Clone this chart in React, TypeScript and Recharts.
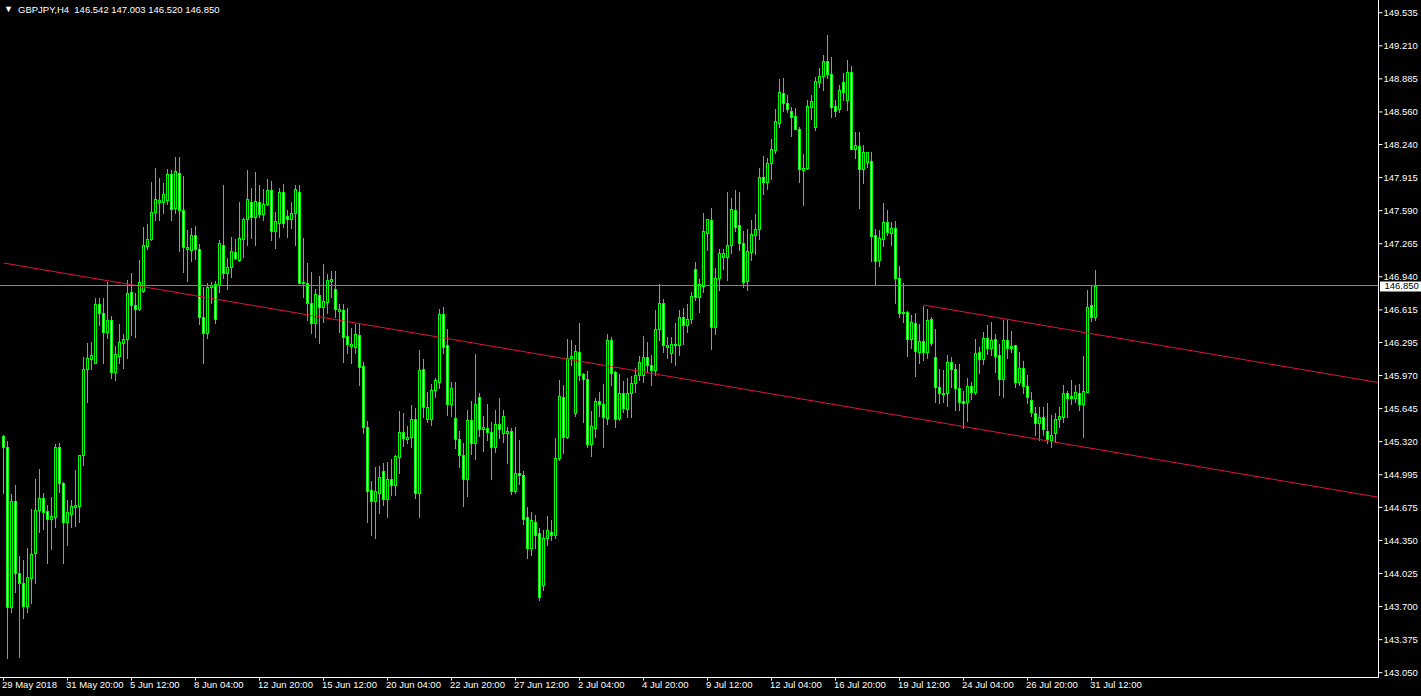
import React from 'react';
import { ComposedChart, Bar, XAxis, YAxis, ReferenceLine } from 'recharts';

const symbolName = 'GBPJPY';
const periodName = 'H4';

const openPrices = [
  145.376, 145.268, 143.696, 144.737, 144.030, 143.932, 143.705, 143.981, 144.226, 144.649,
  144.767, 144.639, 144.560, 144.580, 145.268, 144.914, 144.531, 144.610, 144.678, 144.688,
  145.189, 146.034, 146.132, 146.093, 146.673, 146.584, 146.398, 146.516, 146.005, 146.162,
  146.290, 146.329, 146.790, 146.663, 146.624, 146.800, 147.243, 147.312, 147.577, 147.675,
  147.675, 147.695, 147.951, 147.616, 147.960, 147.597, 147.213, 147.204, 147.351, 147.213,
  146.545, 146.388, 146.840, 146.870, 146.860, 147.253, 146.978, 147.037, 147.184, 147.105,
  147.312, 147.508, 147.675, 147.528, 147.675, 147.557, 147.656, 147.793, 147.390, 147.469,
  147.774, 147.538, 147.508, 147.567, 147.774, 146.889, 146.880, 146.683, 146.486, 146.761,
  146.644, 146.693, 146.899, 146.820, 146.604, 146.614, 146.359, 146.260, 146.250, 146.368,
  146.064, 145.464, 144.845, 144.737, 144.816, 145.032, 144.757, 144.953, 144.894, 145.170,
  145.415, 145.346, 145.366, 145.543, 144.816, 146.034, 145.543, 145.543, 145.828, 145.906,
  146.575, 146.270, 145.690, 145.553, 145.346, 145.189, 144.953, 145.533, 145.307, 145.759,
  145.444, 145.454, 145.415, 145.268, 145.494, 145.405, 145.405, 145.425, 144.835, 145.012,
  144.993, 144.580, 144.275, 144.531, 144.423, 143.912, 144.373, 144.432, 144.403, 145.160,
  145.759, 145.366, 146.143, 145.602, 146.201, 145.985, 145.936, 145.297, 145.454, 145.720,
  145.690, 145.553, 146.319, 146.005, 145.553, 145.798, 145.641, 145.798, 145.897, 145.975,
  145.975, 146.152, 146.074, 146.024, 146.427, 146.683, 146.250, 146.191, 146.270, 146.270,
  146.545, 146.467, 146.526, 147.017, 146.742, 146.850, 147.371, 147.498, 146.447, 146.929,
  147.135, 147.135, 147.253, 147.597, 147.449, 147.272, 146.899, 147.184, 147.351, 147.410,
  147.921, 147.872, 148.058, 148.186, 148.451, 148.746, 148.648, 148.569, 148.520, 148.392,
  147.990, 148.009, 148.609, 148.412, 148.854, 148.913, 149.061, 148.933, 148.618, 148.589,
  148.854, 148.677, 148.953, 148.196, 148.225, 148.000, 148.068, 148.078, 147.351, 147.105,
  147.312, 147.479, 147.371, 147.420, 146.929, 146.594, 146.594, 146.329, 146.486, 146.201,
  146.309, 146.201, 146.526, 146.152, 145.857, 145.798, 145.798, 146.103, 146.034, 145.848,
  145.720, 145.710, 145.867, 145.808, 146.201, 146.132, 146.339, 146.241, 146.329, 146.172,
  145.936, 146.319, 146.260, 146.270, 145.906, 146.044, 145.867, 145.730, 145.602, 145.504,
  145.563, 145.425, 145.337, 145.405, 145.543, 145.562, 145.798, 145.769, 145.749, 145.798,
  145.690, 145.808, 146.663, 146.542,
];

const highPrices = [
  145.386, 145.327, 144.806, 144.895, 144.197, 144.157, 144.275, 144.659, 144.953, 145.052,
  144.816, 144.698, 144.777, 145.297, 145.307, 144.924, 144.747, 144.747, 145.042, 145.189,
  146.152, 146.290, 146.300, 146.732, 146.732, 146.732, 146.889, 146.555, 146.261, 146.476,
  146.378, 146.909, 146.978, 146.781, 147.105, 147.429, 147.459, 147.872, 148.009, 147.911,
  147.862, 147.999, 147.990, 148.117, 148.117, 147.931, 147.400, 147.420, 147.439, 147.262,
  146.840, 146.879, 146.889, 146.899, 147.302, 147.842, 147.125, 147.331, 147.312, 147.675,
  147.518, 147.990, 147.813, 147.970, 147.842, 147.803, 147.901, 147.882, 147.577, 147.813,
  147.852, 147.597, 147.675, 147.842, 147.842, 147.322, 147.076, 146.987, 146.820, 146.948,
  147.066, 146.968, 146.997, 146.997, 146.673, 146.673, 146.634, 146.437, 146.476, 146.476,
  146.103, 145.523, 144.934, 145.071, 145.081, 145.111, 145.121, 145.150, 145.189, 145.621,
  145.602, 145.474, 145.681, 145.651, 146.221, 146.132, 145.808, 145.887, 145.946, 146.624,
  146.644, 146.427, 145.906, 145.906, 145.425, 145.307, 145.631, 145.720, 146.182, 145.798,
  145.572, 145.690, 145.513, 145.631, 145.749, 145.631, 145.464, 145.454, 145.464, 145.337,
  145.032, 144.678, 144.629, 144.600, 144.472, 144.452, 144.590, 144.550, 145.356, 145.926,
  145.877, 146.329, 146.319, 146.270, 146.486, 145.995, 146.015, 145.621, 145.749, 145.808,
  145.887, 146.378, 146.349, 146.015, 145.985, 145.916, 145.946, 145.965, 146.044, 146.162,
  146.359, 146.300, 146.172, 146.614, 146.870, 146.722, 146.349, 146.349, 146.486, 146.614,
  146.634, 146.673, 146.791, 147.086, 146.919, 147.567, 147.508, 147.616, 147.027, 147.213,
  147.213, 147.773, 147.714, 147.793, 147.773, 147.390, 147.410, 147.498, 147.557, 148.009,
  148.127, 148.107, 148.294, 148.589, 148.884, 148.894, 148.726, 148.609, 148.599, 148.412,
  148.147, 148.677, 148.726, 148.903, 148.992, 149.120, 149.316, 149.100, 148.677, 148.825,
  148.943, 149.070, 149.011, 148.363, 148.363, 148.235, 148.166, 148.166, 147.410, 147.400,
  147.665, 147.597, 147.479, 147.488, 147.046, 146.880, 146.604, 146.565, 146.584, 146.476,
  146.653, 146.624, 146.545, 146.427, 146.034, 146.024, 146.172, 146.152, 146.083, 146.083,
  145.818, 145.946, 145.906, 146.329, 146.250, 146.398, 146.467, 146.496, 146.378, 146.280,
  146.516, 146.516, 146.408, 146.270, 146.201, 146.113, 145.975, 145.808, 145.661, 145.661,
  145.661, 145.700, 145.582, 145.602, 145.661, 145.877, 145.818, 145.926, 145.877, 145.887,
  146.162, 146.810, 146.860, 147.003,
];

const lowPrices = [
  144.816, 143.195, 143.646, 143.843, 143.204, 143.588, 143.646, 143.735, 143.932, 144.432,
  144.462, 144.128, 144.266, 144.481, 144.826, 144.128, 144.305, 144.481, 144.491, 144.531,
  145.091, 145.710, 146.034, 146.093, 146.467, 146.093, 146.339, 145.946, 145.926, 146.093,
  146.044, 146.143, 146.368, 146.349, 146.614, 146.790, 147.213, 147.302, 147.498, 147.498,
  147.567, 147.656, 147.498, 147.567, 147.194, 146.987, 146.899, 147.095, 147.115, 146.476,
  146.093, 146.339, 146.683, 146.486, 146.791, 146.928, 146.820, 146.938, 147.115, 147.095,
  147.135, 147.253, 147.321, 147.253, 147.528, 147.498, 147.646, 147.302, 147.223, 147.331,
  147.429, 147.331, 147.420, 147.253, 146.880, 146.742, 146.516, 146.388, 146.349, 146.290,
  146.496, 146.585, 146.742, 146.545, 146.398, 146.103, 146.192, 146.093, 146.192, 145.877,
  145.405, 144.531, 144.403, 144.373, 144.619, 144.698, 144.580, 144.796, 144.796, 145.012,
  145.278, 145.307, 145.268, 144.767, 144.580, 145.562, 145.513, 145.484, 145.759, 145.848,
  146.192, 145.582, 145.572, 145.258, 145.071, 144.688, 144.786, 145.199, 145.150, 145.376,
  145.228, 145.337, 144.953, 145.219, 145.356, 145.317, 145.111, 144.806, 144.816, 144.904,
  144.511, 144.177, 144.206, 144.275, 143.764, 143.863, 144.305, 144.354, 144.373, 145.140,
  145.209, 145.356, 146.074, 145.572, 145.926, 145.513, 145.268, 145.179, 145.366, 145.572,
  145.268, 145.494, 145.877, 145.464, 145.533, 145.612, 145.562, 145.562, 145.808, 145.926,
  145.906, 146.005, 145.877, 145.975, 146.319, 146.201, 146.142, 146.103, 146.074, 146.172,
  146.280, 146.398, 146.486, 146.712, 146.594, 146.791, 147.204, 146.231, 146.378, 146.810,
  147.017, 146.909, 147.174, 147.390, 147.204, 146.840, 146.810, 147.105, 147.164, 147.312,
  147.754, 147.803, 147.901, 148.157, 148.412, 148.569, 148.560, 148.324, 148.392, 147.872,
  147.646, 148.000, 148.491, 148.383, 148.805, 148.776, 148.894, 148.510, 148.520, 148.560,
  148.677, 148.579, 148.216, 148.108, 147.616, 147.862, 148.019, 147.095, 146.860, 147.046,
  147.243, 147.351, 147.253, 146.683, 146.545, 146.496, 146.162, 146.241, 145.966, 146.093,
  146.123, 146.143, 146.270, 145.710, 145.700, 145.710, 145.670, 145.857, 145.631, 145.631,
  145.454, 145.523, 145.739, 145.789, 145.995, 146.083, 146.182, 146.172, 146.005, 145.779,
  145.759, 146.142, 146.201, 145.857, 145.877, 145.798, 145.700, 145.572, 145.386, 145.337,
  145.386, 145.307, 145.268, 145.317, 145.464, 145.513, 145.562, 145.690, 145.710, 145.631,
  145.366, 145.808, 146.506, 146.520,
];

const closePrices = [
  145.268, 143.696, 144.737, 144.030, 143.932, 143.705, 143.990, 144.216, 144.649, 144.767,
  144.629, 144.560, 144.590, 145.268, 144.914, 144.531, 144.629, 144.688, 144.698, 145.189,
  146.034, 146.143, 146.172, 146.673, 146.584, 146.398, 146.516, 146.005, 146.182, 146.300,
  146.329, 146.781, 146.663, 146.624, 146.889, 147.253, 147.312, 147.577, 147.705, 147.695,
  147.754, 147.951, 147.606, 147.980, 147.597, 147.233, 147.233, 147.351, 147.213, 146.545,
  146.388, 146.840, 146.860, 146.526, 147.272, 146.978, 147.037, 147.194, 147.125, 147.322,
  147.508, 147.705, 147.528, 147.685, 147.557, 147.656, 147.793, 147.390, 147.488, 147.774,
  147.469, 147.508, 147.567, 147.803, 146.880, 146.880, 146.683, 146.486, 146.771, 146.644,
  146.702, 146.909, 146.919, 146.624, 146.624, 146.349, 146.280, 146.280, 146.378, 146.054,
  145.464, 144.835, 144.737, 144.835, 144.973, 144.757, 144.953, 144.894, 145.179, 145.415,
  145.356, 145.366, 145.543, 144.816, 146.024, 145.661, 145.661, 145.828, 145.926, 146.575,
  146.250, 145.690, 145.848, 145.346, 145.189, 144.953, 145.533, 145.307, 145.690, 145.444,
  145.464, 145.415, 145.268, 145.494, 145.444, 145.572, 145.425, 144.835, 145.012, 144.993,
  144.560, 144.275, 144.550, 144.403, 143.794, 144.373, 144.452, 144.403, 145.160, 145.769,
  145.366, 146.143, 146.162, 146.211, 145.975, 145.936, 145.297, 145.474, 145.720, 145.690,
  145.562, 146.319, 145.995, 145.543, 145.798, 145.651, 145.798, 145.897, 145.975, 146.103,
  146.152, 146.074, 146.024, 146.427, 146.683, 146.270, 146.270, 146.280, 146.280, 146.545,
  146.467, 146.526, 146.752, 146.742, 146.870, 147.390, 147.508, 146.447, 146.929, 147.174,
  147.174, 147.253, 147.606, 147.430, 147.272, 146.889, 147.194, 147.361, 147.410, 147.921,
  147.872, 148.058, 148.196, 148.471, 148.756, 148.648, 148.589, 148.510, 148.392, 148.000,
  148.009, 148.618, 148.668, 148.864, 148.913, 149.061, 148.933, 148.609, 148.569, 148.776,
  148.756, 148.953, 148.196, 148.235, 148.000, 148.166, 148.166, 147.341, 147.095, 147.322,
  147.479, 147.380, 147.420, 146.929, 146.584, 146.584, 146.329, 146.496, 146.211, 146.309,
  146.201, 146.516, 146.290, 145.857, 145.798, 145.788, 146.103, 146.034, 145.848, 145.710,
  145.700, 145.867, 145.808, 146.191, 146.132, 146.339, 146.241, 146.319, 146.162, 145.936,
  146.319, 146.241, 146.241, 145.906, 146.044, 145.867, 145.759, 145.612, 145.504, 145.563,
  145.444, 145.346, 145.386, 145.543, 145.572, 145.798, 145.749, 145.749, 145.808, 145.690,
  145.818, 146.644, 146.545, 146.850,
];

const priceTicks = [
  149.535, 149.21, 148.885, 148.56, 148.24, 147.915, 147.59, 147.265, 146.94, 146.615,
  146.295, 145.97, 145.645, 145.32, 144.995, 144.675, 144.35, 144.025, 143.7, 143.375, 143.05,
];

const timeTickBars = [0, 16, 32, 48, 64, 80, 96, 112, 128, 144, 160, 176, 192, 208, 224, 240, 256, 272];
const timeLabels = [
  '29 May 2018', '31 May 20:00', '5 Jun 12:00', '8 Jun 04:00', '12 Jun 20:00', '15 Jun 12:00',
  '20 Jun 04:00', '22 Jun 20:00', '27 Jun 12:00', '2 Jul 04:00', '4 Jul 20:00', '9 Jul 12:00',
  '12 Jul 04:00', '16 Jul 20:00', '19 Jul 12:00', '24 Jul 04:00', '26 Jul 20:00', '31 Jul 12:00',
];

// trend lines anchored at [bar index, price]
const trendLineMain = [[0, 147.076], [343.75, 144.774]];
const trendLineUpper = [[230, 146.663], [343.75, 145.901]];

const lastPrice = closePrices[closePrices.length - 1];

const FONT = "'Liberation Sans', Arial, sans-serif";
const LIME = '#00FF00';

const data = openPrices.map((o, i) => ({
  i,
  o,
  h: highPrices[i],
  l: lowPrices[i],
  c: closePrices[i],
  range: [lowPrices[i], highPrices[i]],
}));

const Candle = (props: any) => {
  const { x, y, width, height, payload } = props;
  if (x == null || y == null) return null;
  const { o, h, l, c } = payload;
  const top0 = Math.min(y, y + height);
  const hh = Math.abs(height);
  const cx = Math.floor(x + width / 2);
  const span = h - l;
  const py = (v: number) => (span === 0 ? top0 : top0 + ((h - v) / span) * hh);
  const top = Math.round(py(h));
  const bot = Math.round(py(l));
  const bTop = Math.round(py(Math.max(o, c)));
  const bBot = Math.round(py(Math.min(o, c)));
  const bull = c >= o;
  return (
    <g shapeRendering="crispEdges">
      <rect x={cx} y={top} width={1} height={bot - top + 1} fill={LIME} />
      <rect x={cx - 1} y={bTop} width={3} height={bBot - bTop + 1} fill={LIME} />
      {bBot - bTop >= 2 && (
        <rect x={cx} y={bTop + 1} width={1} height={bBot - bTop - 1} fill={bull ? '#000000' : '#FFFFFF'} />
      )}
    </g>
  );
};

const TimeTick = (props: any) => {
  const { x, y, payload } = props;
  const idx = timeTickBars.indexOf(payload.value);
  if (idx < 0) return null;
  return (
    <text x={Math.floor(x) - 1} y={y} dy="0.71em" fill="#FFFFFF" fontSize={9.5} fontFamily={FONT} textAnchor="start">
      {timeLabels[idx]}
    </text>
  );
};

const PriceTag = (props: any) => {
  const vb = props.viewBox || {};
  const right = (vb.x || 0) + (vb.width || 0);
  const yy = Math.round(vb.y || 0);
  return (
    <g>
      <rect x={right + 1.5} y={yy - 4.5} width={42} height={10} fill="#FFFFFF" />
      <text x={right + 6} y={yy} dy="0.36em" fill="#000000" fontSize={9.5} fontFamily={FONT} textAnchor="start">
        {lastPrice.toFixed(3)}
      </text>
    </g>
  );
};

export default function App() {
  const header = `${symbolName},${periodName}  ${openPrices[openPrices.length - 1].toFixed(3)} ${highPrices[highPrices.length - 1].toFixed(3)} ${lowPrices[lowPrices.length - 1].toFixed(3)} ${lastPrice.toFixed(3)}`;
  return (
    <div style={{ position: 'absolute', left: 0, top: 0, width: 1421, height: 696, background: '#000000', overflow: 'hidden' }}>
      <ComposedChart width={1421} height={696} data={data} margin={{ top: 0, right: 0, bottom: 0, left: 0 }}>
        <XAxis
          dataKey="i"
          type="number"
          domain={[-0.875, 343.75]}
          allowDataOverflow
          ticks={timeTickBars}
          height={18.5}
          axisLine={{ stroke: '#FFFFFF' }}
          tickLine={{ stroke: '#FFFFFF' }}
          tickSize={3}
          tickMargin={1}
          tick={<TimeTick />}
          interval={0}
        />
        <YAxis
          orientation="right"
          type="number"
          domain={[143.003, 149.66]}
          allowDataOverflow
          ticks={priceTicks}
          width={42.5}
          axisLine={{ stroke: '#FFFFFF' }}
          tickLine={{ stroke: '#FFFFFF' }}
          tickSize={4}
          tickMargin={1}
          interval={0}
          tickFormatter={(v: number) => v.toFixed(3)}
          tick={{ fill: '#FFFFFF', fontSize: 9.5, fontFamily: FONT }}
        />
        <ReferenceLine
          segment={[{ x: trendLineMain[0][0], y: trendLineMain[0][1] }, { x: trendLineMain[1][0], y: trendLineMain[1][1] }]}
          stroke="#E0143C"
          strokeWidth={1}
          ifOverflow="hidden"
        />
        <ReferenceLine
          segment={[{ x: trendLineUpper[0][0], y: trendLineUpper[0][1] }, { x: trendLineUpper[1][0], y: trendLineUpper[1][1] }]}
          stroke="#E0143C"
          strokeWidth={1}
          ifOverflow="hidden"
        />
        <Bar dataKey="range" barSize={3} isAnimationActive={false} shape={(p: any) => <Candle {...p} />} />
        <ReferenceLine y={lastPrice} stroke="#778899" shapeRendering="crispEdges" label={<PriceTag />} />
      </ComposedChart>
      <div style={{ position: 'absolute', left: 4, top: 4, color: '#FFFFFF', fontFamily: FONT, fontSize: 9, lineHeight: '11px' }}>▼</div>
      <div style={{ position: 'absolute', left: 18, top: 5, color: '#FFFFFF', fontFamily: FONT, fontSize: 9.5, lineHeight: '9px', whiteSpace: 'pre' }}>
        {header}
      </div>
    </div>
  );
}
